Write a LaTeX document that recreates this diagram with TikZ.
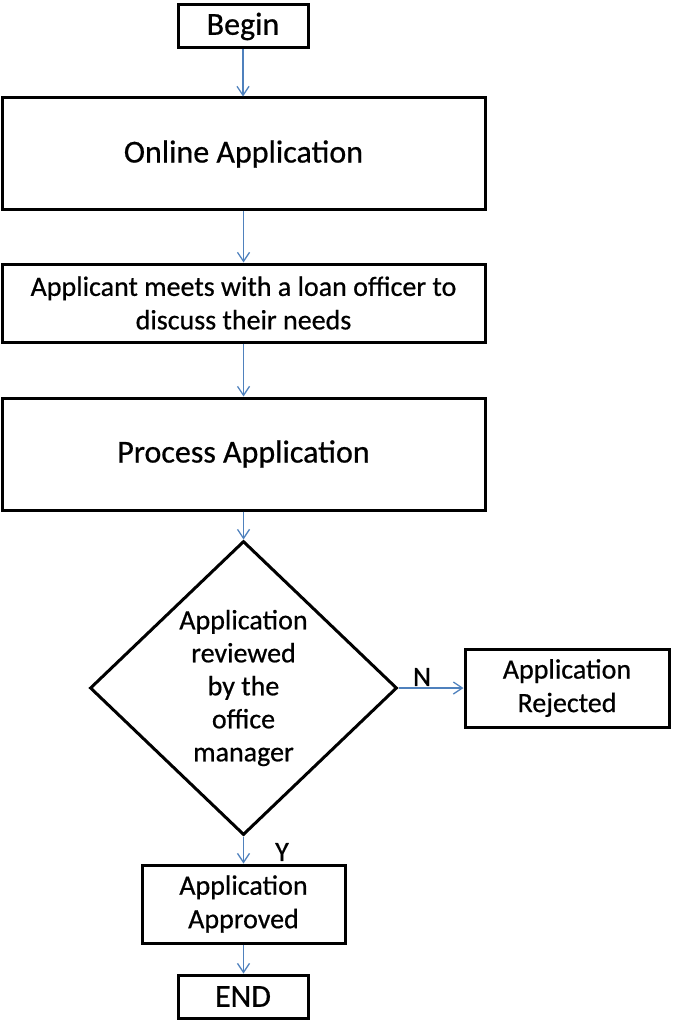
\documentclass[tikz,border=0pt]{standalone}
\usepackage{fontspec}
\setmainfont{Carlito}[FakeBold=0.6]
\usetikzlibrary{shapes.geometric,arrows.meta}
\definecolor{arrowblue}{RGB}{79,129,189}
\tikzset{
  box/.style={draw=black, line width=3pt, rectangle, inner sep=0pt, align=center, font=\fontsize{32}{34}\selectfont},
  smallbox/.style={box, font=\fontsize{28}{33.5}\selectfont},
  decision/.style={draw=black, line width=3pt, diamond, inner sep=0pt, align=center, font=\fontsize{28}{33}\selectfont},
  flow/.style={draw=arrowblue, line width=1.3pt, -{Straight Barb[length=9pt,width=12pt,line width=1.3pt]}},
  lbl/.style={font=\fontsize{28}{30}\selectfont, inner sep=0pt}
}
\begin{document}
\begin{tikzpicture}[x=1pt,y=-1pt]
\useasboundingbox (0,0) rectangle (672,1024);
\node[box, minimum width=130pt, minimum height=43pt] (begin) at (243,26.5) {\raisebox{-3pt}{Begin}};
\node[box, minimum width=483pt, minimum height=112pt] (online) at (243.5,154) {\raisebox{-3pt}{Online Application}};
\node[smallbox, minimum width=483pt, minimum height=78pt] (meet) at (243.5,303) {Applicant meets with a loan officer to\\discuss their needs};
\node[box, minimum width=483pt, minimum height=112pt] (process) at (243.5,454) {\raisebox{-3pt}{Process Application}};
\node[decision, minimum width=307pt, minimum height=294pt] (review) at (243.5,688) {Application\\reviewed\\by the\\office\\manager};
\node[smallbox, minimum width=204pt, minimum height=78pt] (reject) at (567,688) {Application\\Rejected};
\node[smallbox, minimum width=203pt, minimum height=78pt] (approve) at (243.5,904) {Application\\Approved};
\node[box, minimum width=130pt, minimum height=43pt] (end) at (243,996.5) {\raisebox{-2pt}{END}};
\draw[flow] (begin) -- (begin |- online.north);
\draw[flow] (online) -- (online.south |- meet.north);
\draw[flow] (meet) -- (meet.south |- process.north);
\draw[flow] (process) -- (review.north);
\draw[flow] (review.east) -- (reject.west);
\draw[flow] (review.south) -- (approve.north);
\draw[flow] (approve) -- (approve.south |- end.north);
\node[lbl] (nlab) at (422,677) {N};
\node[lbl] (ylab) at (282,852) {Y};
\end{tikzpicture}
\end{document}
